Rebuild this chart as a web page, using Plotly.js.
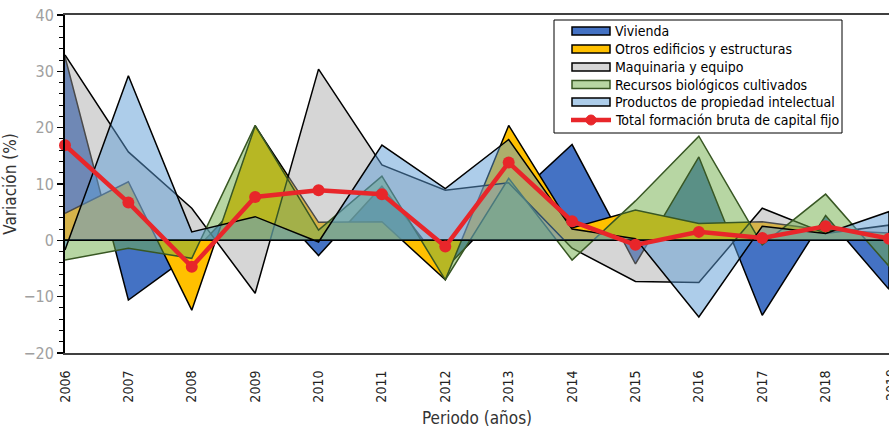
<!DOCTYPE html>
<html>
<head>
<meta charset="utf-8">
<script src="https://cdn.plot.ly/plotly-3.0.1.min.js"></script>
<style>
  html, body { margin: 0; padding: 0; background: #fff; }
  #chart { width: 889px; height: 428px; }
</style>
</head>
<body>
<div id="chart"></div>
<script>
// ---- Data (annual variation, %) ----
const years = [2006, 2007, 2008, 2009, 2010, 2011, 2012, 2013, 2014, 2015, 2016, 2017, 2018, 2019];
const yearLabels = ["2006","2007","2008","2009","2010","2011","2012","2013","2014","2015","2016","2017","2018","2019"];
const seriesNames = [
  "Vivienda",
  "Otros edificios y estructuras",
  "Maquinaria y equipo",
  "Recursos biológicos cultivados",
  "Productos de propiedad intelectual",
  "Total formación bruta de capital fijo"
];
const vivienda   = [32.6, -10.6, -2.4,  9.6, -2.7,  9.6, -5.0,  6.6, 17.0, -4.2, 14.8, -13.3,  4.4, -8.7];
const otros      = [ 4.8,  10.4, -12.4, 20.3,  3.2,  3.3, -7.0, 20.4,  2.2,  5.4,  3.0,   3.3,  1.8,  1.3];
const maquinaria = [32.9,  15.7,  5.7, -9.4, 30.4, 13.4,  8.9, 10.2, -1.4, -7.3, -7.5,   5.7,  1.2,  2.7];
const recursos   = [-3.5,  -1.4, -3.2, 20.4,  1.8, 11.4, -7.0, 11.0, -3.5,  7.0, 18.5,  -0.8,  8.2, -4.6];
const productos  = [-1.7,  29.2,  1.5,  4.2, -0.3, 16.9,  9.2, 17.9,  2.0,  0.3, -13.6,  2.5,  1.2,  5.1];
const total      = [16.9,   6.7, -4.7,  7.7,  8.9,  8.2, -1.1, 13.8,  3.4, -0.8,  1.5,   0.4,  2.5,  0.3];

// ---- Styles ----
const FONT = "Liberation Sans Narrow, DejaVu Sans Condensed, Arial Narrow, sans-serif";
const RED = "#E8262A";
const areaStyles = [
  { fill: "rgba(68,114,196,1)",     line: "#000000" },
  { fill: "rgba(255,192,0,1)",      line: "#000000" },
  { fill: "rgba(165,165,165,0.45)", line: "#000000" },
  { fill: "rgba(112,173,71,0.5)",   line: "#385723" },
  { fill: "rgba(91,155,213,0.5)",   line: "#000000" }
];

// Area polygons closed down to the zero baseline (Excel-style area with border)
function areaTrace(vals, name, st) {
  const xs = years.concat(years.slice().reverse());
  const ys = vals.concat(years.map(() => 0));
  return {
    type: "scatter", mode: "lines", name: name, showlegend: false,
    x: xs, y: ys, fill: "toself", fillcolor: st.fill,
    line: { color: st.line, width: 1.5 },
    hoverinfo: "skip"
  };
}

const areaSeries = [vivienda, otros, maquinaria, recursos, productos];
const traces = areaSeries.map((v, i) => areaTrace(v, seriesNames[i], areaStyles[i]));
traces.push({
  type: "scatter", mode: "lines+markers", name: seriesNames[5], showlegend: false,
  x: years, y: total,
  line: { color: RED, width: 4.5 },
  marker: { color: RED, size: 12 },
  cliponaxis: false
});

// ---- Legend box (drawn in pixel-like paper coordinates) ----
const PL = 65, PW = 824, PT = 15, PH = 338;
const px = v => (v - PL) / PW;
const py = v => (PT + PH - v) / PH;
const shapes = [];
const annotations = [];
shapes.push({ type: "rect", xref: "paper", yref: "paper",
  x0: px(554), x1: px(842), y0: py(133), y1: py(20),
  fillcolor: "#ffffff", line: { color: "#000000", width: 1 }, layer: "above" });
const rowY = [31, 49, 67, 84.5, 102, 120];
for (let i = 0; i < 5; i++) {
  shapes.push({ type: "rect", xref: "paper", yref: "paper",
    x0: px(572), x1: px(610), y0: py(rowY[i] + 4), y1: py(rowY[i] - 4),
    fillcolor: areaStyles[i].fill, line: { color: areaStyles[i].line, width: 1.5 }, layer: "above" });
}
shapes.push({ type: "line", xref: "paper", yref: "paper",
  x0: px(571), x1: px(611), y0: py(rowY[5]), y1: py(rowY[5]),
  line: { color: RED, width: 4.5 }, layer: "above" });
shapes.push({ type: "circle", xref: "paper", yref: "paper",
  x0: px(586), x1: px(596), y0: py(rowY[5] + 5), y1: py(rowY[5] - 5),
  fillcolor: RED, line: { color: RED, width: 1 }, layer: "above" });
for (let i = 0; i < 6; i++) {
  annotations.push({ xref: "paper", yref: "paper", x: px(613), y: py(rowY[i]),
    xanchor: "left", yanchor: "middle", showarrow: false, text: seriesNames[i],
    font: { family: FONT, size: 14, color: "#000" } });
}
// last category label, sitting on the right edge (half cut off as in the source)
annotations.push({ xref: "paper", yref: "paper", x: 1, y: 0, xshift: 2, yshift: -14,
  xanchor: "center", yanchor: "top", textangle: -90, showarrow: false,
  text: yearLabels[yearLabels.length - 1],
  font: { family: FONT, size: 14, color: "#222" } });

const layout = {
  width: 889, height: 428,
  margin: { l: 65, r: 0, t: 15, b: 75 },
  paper_bgcolor: "#ffffff", plot_bgcolor: "#ffffff",
  font: { family: FONT, size: 14, color: "#000" },
  showlegend: false,
  shapes: shapes,
  annotations: annotations,
  xaxis: {
    type: "linear", range: [2006, 2019],
    tickmode: "array", tickvals: years.slice(0, -1), ticktext: yearLabels.slice(0, -1),
    tickangle: -90, ticks: "", showgrid: false, zeroline: false,
    showline: true, linecolor: "#404040", linewidth: 2, mirror: true,
    ticklabelstandoff: 10,
    tickfont: { family: FONT, size: 14, color: "#222" },
    title: { text: "Periodo (años)", font: { family: FONT, size: 17, color: "#333" }, standoff: 12 }
  },
  yaxis: {
    range: [-20, 40], dtick: 10, tick0: 0,
    ticks: "outside", ticklen: 6, tickwidth: 1.5, tickcolor: "#000",
    minor: { dtick: 2, ticks: "outside", ticklen: 4, tickwidth: 1, tickcolor: "#000", showgrid: false },
    showgrid: false, zeroline: false,
    showline: true, linecolor: "#000", linewidth: 2,
    tickfont: { family: FONT, size: 16, color: "#a0a0a0" },
    title: { text: "Variación (%)", font: { family: FONT, size: 17, color: "#333" }, standoff: 2 }
  }
};

Plotly.newPlot("chart", traces, layout, { displayModeBar: false, staticPlot: true });
</script>
</body>
</html>
